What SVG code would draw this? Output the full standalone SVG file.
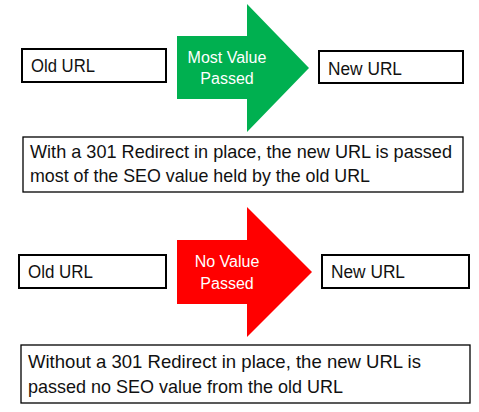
<svg xmlns="http://www.w3.org/2000/svg" width="479" height="412" viewBox="0 0 479 412">
<style>
.url{fill:#fff;stroke:#000;stroke-width:2}
.note{fill:#fff;stroke:#000;stroke-width:1.3}
.t{font-family:"Liberation Sans",Arial,sans-serif;font-size:18px;fill:#111}
.nt{font-family:"Liberation Sans",Arial,sans-serif;font-size:18.5px;fill:#111}
.at{font-family:"Liberation Sans",Arial,sans-serif;font-size:16px;fill:#fff;text-anchor:middle}
</style>
<rect width="479" height="412" fill="#fff"/>
<g id="old-url-1"><rect class="url" x="22" y="49" width="144" height="33"/><text class="t" x="31" y="72" textLength="64" lengthAdjust="spacingAndGlyphs">Old URL</text></g>
<g id="arrow-green"><polygon points="177,36 247,36 247,4 309,68 247,132 247,99 177,99" fill="#00B050"/><text class="at" x="227" y="63">Most Value</text><text class="at" x="227" y="84">Passed</text></g>
<g id="new-url-1"><rect class="url" x="319" y="51" width="144" height="32"/><text class="t" x="328" y="75" textLength="74" lengthAdjust="spacingAndGlyphs">New URL</text></g>
<g id="note-1"><rect class="note" x="23" y="137" width="440" height="55"/><text class="nt" x="30" y="158" textLength="422" lengthAdjust="spacingAndGlyphs">With a 301 Redirect in place, the new URL is passed</text><text class="nt" x="30" y="182" textLength="340" lengthAdjust="spacingAndGlyphs">most of the SEO value held by the old URL</text></g>
<g id="old-url-2"><rect class="url" x="19" y="255" width="147" height="33"/><text class="t" x="28" y="278" textLength="65" lengthAdjust="spacingAndGlyphs">Old URL</text></g>
<g id="arrow-red"><polygon points="177,240 247,240 247,207 312,272 247,337 247,304 177,304" fill="#FF0000"/><text class="at" x="227" y="267">No Value</text><text class="at" x="227" y="289">Passed</text></g>
<g id="new-url-2"><rect class="url" x="322" y="255" width="147" height="33"/><text class="t" x="331" y="278" textLength="74" lengthAdjust="spacingAndGlyphs">New URL</text></g>
<g id="note-2"><rect class="note" x="21" y="345" width="449" height="58"/><text class="nt" x="28" y="368" textLength="393" lengthAdjust="spacingAndGlyphs">Without a 301 Redirect in place, the new URL is</text><text class="nt" x="28" y="393" textLength="315" lengthAdjust="spacingAndGlyphs">passed no SEO value from the old URL</text></g>
<g id="connectors"></g>
</svg>
